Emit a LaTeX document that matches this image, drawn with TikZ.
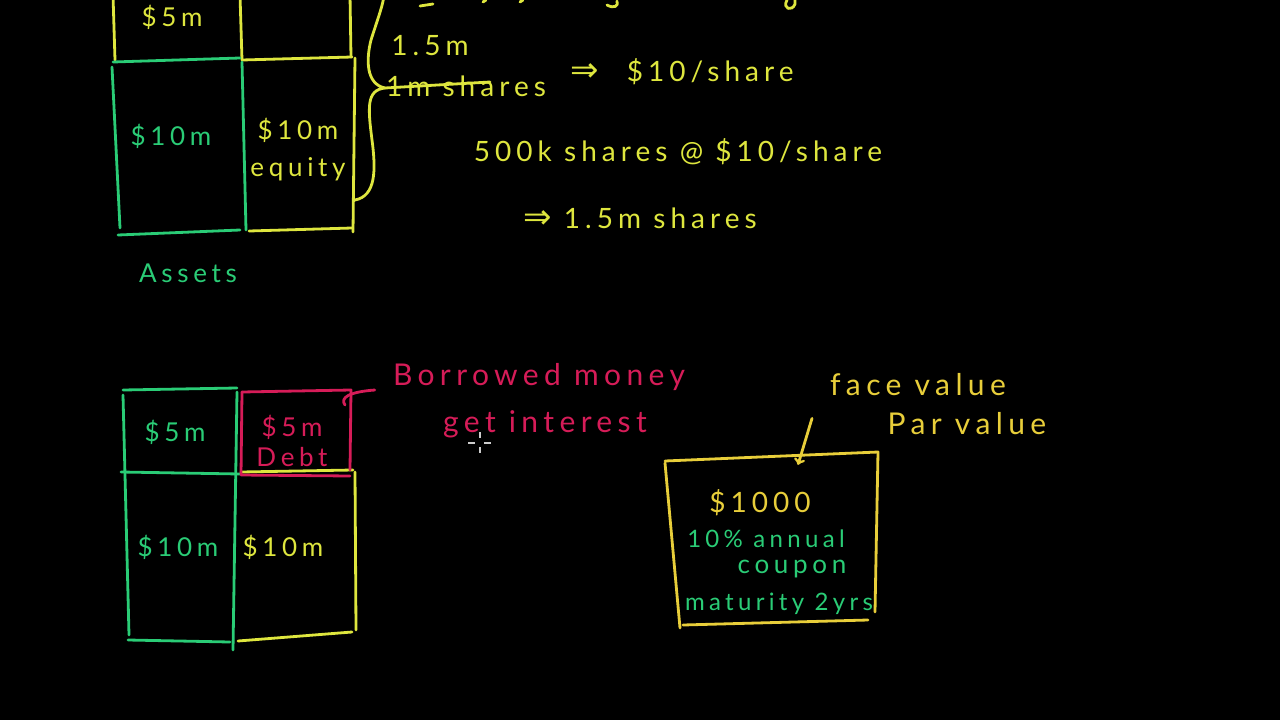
\documentclass[tikz,border=0pt]{standalone}
\usepackage{fontspec}
\setmainfont[LetterSpace=18]{Lato}
\newfontfamily\arrowfont{DejaVu Sans}
\usetikzlibrary{positioning}

\definecolor{chalkyellow}{RGB}{222,230,62}
\definecolor{chalkgold}{RGB}{232,206,58}
\definecolor{chalkgreen}{RGB}{42,204,118}
\definecolor{chalkpink}{RGB}{214,28,88}

\newcommand{\chalksize}[1]{\fontsize{#1}{#1}\selectfont}
\newcommand{\thenarrow}{{\arrowfont\chalksize{34}⇒}}

\begin{document}
\begin{tikzpicture}[x=1pt, y=-1pt,
    chalk/.style={line width=2.8pt, line cap=round, line join=round},
    txt/.style={inner sep=0pt, font=\chalksize{26}},
    tall/.style={inner sep=0pt, font=\chalksize{28}},
    big/.style={inner sep=0pt, font=\chalksize{30}},
    small/.style={inner sep=0pt, font=\chalksize{24}}]
  \useasboundingbox (0,0) rectangle (1280,720);
  \fill[black] (0,0) rectangle (1280,720);

  % balance sheet before debt
  \draw[chalk, chalkyellow] (113,-5) -- (115,60);
  \draw[chalk, chalkyellow] (240,-5) -- (242,60);
  \draw[chalk, chalkyellow] (350,-5) -- (351,57);
  \draw[chalk, chalkgreen]  (113,62) -- (240,58);
  \draw[chalk, chalkyellow] (242,60) -- (352,57);
  \draw[chalk, chalkgreen]  (112,67) -- (120,228);
  \draw[chalk, chalkgreen]  (242,62) -- (246,230);
  \draw[chalk, chalkgreen]  (118,235) -- (240,230);
  \draw[chalk, chalkyellow] (355,58) -- (353,232);
  \draw[chalk, chalkyellow] (249,231) -- (352,228);

  \node[txt, text=chalkyellow] (fivetop)   at (172,17)  {\$5m};
  \node[txt, text=chalkgreen]  (tentop)    at (171,136) {\$10m};
  \node[txt, text=chalkyellow] (equitytop) at (298,130) {\$10m};
  \node[txt, text=chalkyellow] (equity)    [below=15pt of equitytop] {equity};
  \node[txt, text=chalkgreen]  (assets)    at (188,273) {Assets};

  % brace and share count
  \coordinate (tip) at (385,88);
  \draw[chalk, chalkyellow] (355,200) .. controls (376,196) and (376,170) .. (372,140)
        .. controls (368,108) and (366,90) .. (tip)
        .. controls (366,84) and (366,60) .. (371,40)
        .. controls (379,15) and (383,5) .. (384,-5);
  \node[tall, text=chalkyellow] (onefive) at (430,46) {1.5m};
  \node[tall, text=chalkyellow] (shares)  at (466,86) {1m shares};
  \node[tall, text=chalkyellow] (price)   at (682,72) {\thenarrow\quad\$10/share};
  \node[tall, text=chalkyellow] (newshares) at (678,152) {500k shares @ \$10/share};
  \node[tall, text=chalkyellow] (total)   at (640,218) {\thenarrow\ 1.5m shares};
  \draw[chalk, chalkyellow] (tip) -- ([xshift=24pt, yshift=4pt]shares.center);

  % bits of the line cut off at the top
  \draw[chalk, chalkyellow] (420,6) -- (433,4);
  \draw[chalk, chalkyellow] (483,2) -- (486,0) (520,2) -- (523,0);
  \draw[chalk, chalkyellow] (607,5) .. controls (614,9) and (619,6) .. (617,1);
  \draw[chalk, chalkyellow] (787,0) .. controls (782,9) and (792,12) .. (795,4) -- (795,0);

  % balance sheet with debt
  \draw[chalk, chalkgreen]  (123,390) -- (237,388);
  \draw[chalk, chalkgreen]  (123,395) -- (129,635);
  \draw[chalk, chalkgreen]  (121,472) -- (240,474);
  \draw[chalk, chalkgreen]  (128,640) -- (230,642);
  \draw[chalk, chalkgreen]  (237,392) -- (233,650);
  \draw[chalk, chalkyellow] (241,472) -- (353,470);
  \draw[chalk, chalkyellow] (355,472) -- (356,630);
  \draw[chalk, chalkyellow] (238,641) -- (352,632);
  \draw[chalk, chalkpink]   (242,392) -- (351,390) -- (350,470);
  \draw[chalk, chalkpink]   (242,392) -- (241,475) -- (350,476);

  \node[txt, text=chalkgreen]  (fivebot) at (175,432) {\$5m};
  \node[txt, text=chalkgreen]  (tenbot)  at (178,547) {\$10m};
  \node[txt, text=chalkyellow] (tenright) at (283,547) {\$10m};
  \node[txt, text=chalkpink]   (debtamt) at (292,427) {\$5m};
  \node[txt, text=chalkpink]   (debt)    [below=8pt of debtamt] {Debt};

  \node[big, text=chalkpink] (borrowed) at (539,377) {Borrowed money};
  \node[big, text=chalkpink] (interest) at (545,424) {get interest};
  \draw[chalk, chalkpink] (345,405) .. controls (340,398) and (348,392) .. ([xshift=-18pt, yshift=-13pt]borrowed.west);

  % mouse pointer
  \draw[line width=1.2pt, white!80!black] (468,443) -- (475,443) (484,443) -- (491,443)
        (480,432) -- (480,438) (480,447) -- (480,453);

  % the bond
  \node[minimum width=212pt, minimum height=168pt] (bond) at (772,541) {};
  \draw[chalk, chalkgold] (665,461) -- (878,452) -- (875,612)
        (683,625) -- (868,620) (665,463) -- (680,628);
  \node[tall, text=chalkgold]   (amount)  at (760,503) {\$1000};
  \node[small, text=chalkgreen] (coupon1) at (766,539) {10\% annual};
  \node[txt, text=chalkgreen]   (coupon2) at (792,569) {coupon};
  \node[small, text=chalkgreen] (maturity) at (779,604) {maturity 2yrs};

  \node[big, text=chalkgold] (face) at (918,385) {face value};
  \node[big, text=chalkgold] (par)  at (967,424) {Par value};
  \draw[chalk, chalkgold, ->] ([xshift=-106pt, yshift=-22pt]face.south) -- ([xshift=26pt, yshift=-8pt]bond.north);
\end{tikzpicture}
\end{document}
